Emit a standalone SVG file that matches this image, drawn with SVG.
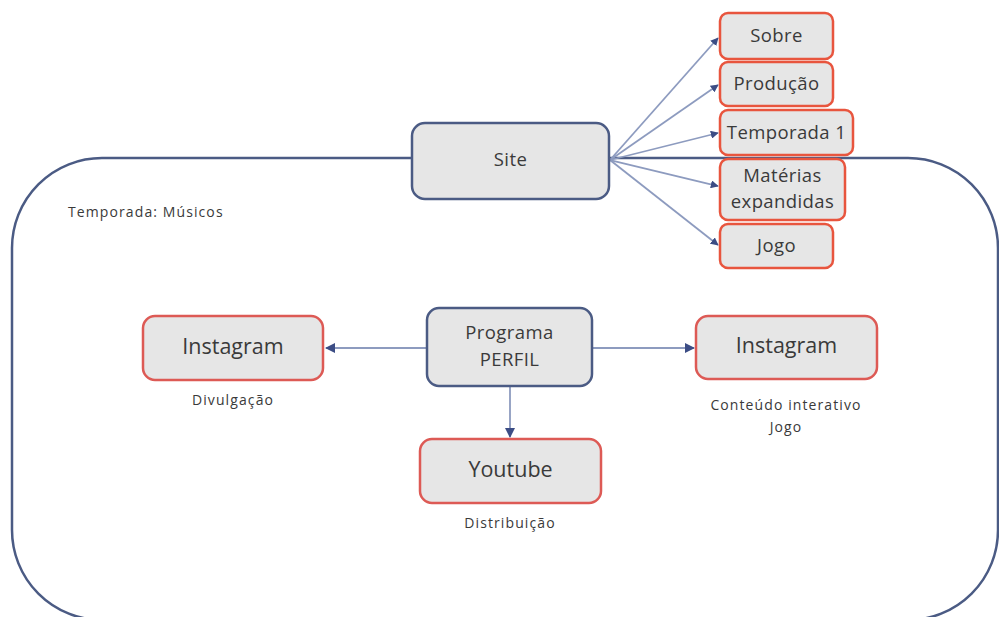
<svg xmlns="http://www.w3.org/2000/svg" width="999" height="617" viewBox="0 0 999 617">
<style>
  text { font-family: "Open Sans", "Liberation Sans", sans-serif; fill: #3a3a3a; text-anchor: middle; }
  .blue { fill: #e6e6e6; stroke: #4b5b84; stroke-width: 2.5; }
  .red { fill: #e6e6e6; stroke: #e8553e; stroke-width: 2.5; }
  .red2 { fill: #e6e6e6; stroke: #dd5a55; stroke-width: 2.5; }
  .conn { stroke: #8d9bbf; stroke-width: 1.8; fill: none; marker-end: url(#arr); }
  .lbl { font-size: 14px; letter-spacing: 1.1px; }
  .box { font-size: 18.5px; letter-spacing: 0.4px; }
  .big { font-size: 21.5px; }
</style>
<defs>
  <marker id="arr" viewBox="0 0 10 10" refX="9" refY="5" markerWidth="8" markerHeight="8" markerUnits="userSpaceOnUse" orient="auto">
    <path d="M0,0 L10,5 L0,10 z" fill="#3c4d85"/>
  </marker>
  <marker id="arrL" viewBox="0 0 10 10" refX="9" refY="5" markerWidth="12" markerHeight="10" markerUnits="userSpaceOnUse" orient="auto">
    <path d="M0,0 L10,5 L0,10 z" fill="#3c4d85"/>
  </marker>
</defs>
<rect width="999" height="617" fill="#ffffff"/>
<g id="container">
  <rect x="12" y="158" width="986" height="462" rx="90" ry="90" fill="none" stroke="#4b5b84" stroke-width="2.5"/>
  <text class="lbl" x="68" y="217" style="text-anchor:start">Temporada: Músicos</text>
</g>
<g id="connectors">
  <line class="conn" x1="610" y1="160" x2="718" y2="38"/>
  <line class="conn" x1="610" y1="160" x2="718" y2="85"/>
  <line class="conn" x1="610" y1="160" x2="718" y2="133"/>
  <line class="conn" x1="610" y1="160" x2="718" y2="186"/>
  <line class="conn" x1="610" y1="160" x2="718" y2="245"/>
  <line class="conn" x1="427" y1="348" x2="326" y2="348" style="marker-end:url(#arrL)"/>
  <line class="conn" x1="592" y1="348" x2="694" y2="348" style="marker-end:url(#arrL)"/>
  <line class="conn" x1="510" y1="386" x2="510" y2="437" style="marker-end:url(#arrL)"/>
</g>
<g id="site">
  <rect class="blue" x="412" y="123" width="197" height="76" rx="13"/>
  <text class="box" x="510.5" y="166">Site</text>
</g>
<g id="sobre">
  <rect class="red" x="720" y="13" width="113" height="46" rx="8"/>
  <text class="box" x="776.5" y="42">Sobre</text>
</g>
<g id="producao">
  <rect class="red" x="720" y="62" width="113" height="44" rx="8"/>
  <text class="box" x="776.5" y="90">Produção</text>
</g>
<g id="temporada1">
  <rect class="red" x="720" y="110" width="133" height="45" rx="8"/>
  <text class="box" x="786.5" y="139">Temporada 1</text>
</g>
<g id="materias">
  <rect class="red" x="720" y="159" width="125" height="61" rx="8"/>
  <text class="box" x="782.5" y="182">Matérias</text>
  <text class="box" x="782.5" y="208">expandidas</text>
</g>
<g id="jogo">
  <rect class="red" x="720" y="224" width="113" height="44" rx="8"/>
  <text class="box" x="776.5" y="252">Jogo</text>
</g>
<g id="programa">
  <rect class="blue" x="427" y="308" width="165" height="78" rx="12"/>
  <text class="box" x="509.5" y="339">Programa</text>
  <text class="box" x="509.5" y="366">PERFIL</text>
</g>
<g id="instagram-left">
  <rect class="red2" x="143" y="316" width="180" height="64" rx="12"/>
  <text class="big" x="233" y="354">Instagram</text>
  <text class="lbl" x="233" y="405">Divulgação</text>
</g>
<g id="instagram-right">
  <rect class="red2" x="696" y="316" width="181" height="63" rx="12"/>
  <text class="big" x="786.5" y="353">Instagram</text>
  <text class="lbl" x="786" y="410">Conteúdo interativo</text>
  <text class="lbl" x="786" y="432">Jogo</text>
</g>
<g id="youtube">
  <rect class="red2" x="420" y="439" width="181" height="64" rx="12"/>
  <text class="big" x="510.5" y="477">Youtube</text>
  <text class="lbl" x="510" y="528">Distribuição</text>
</g>
</svg>
